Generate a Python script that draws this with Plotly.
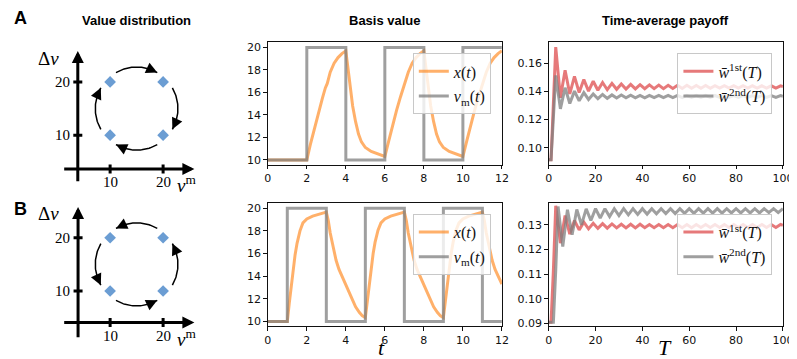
import numpy as np
import plotly.graph_objects as go

W, H = 797, 359

# ---- data -------------------------------------------------------------
# value distribution (v^m, delta v)
value_vm = [10, 20, 20, 10]
value_dv = [20, 20, 10, 10]

# A: basis value
t_step_a = [0, 2, 4, 6, 8, 10, 12]
vm_a = [10, 20, 10, 20, 10, 20, 20]
t_x_a = [0, 2.0, 2.2, 2.4, 2.6, 2.8, 2.95, 3.05, 3.2, 3.4, 3.6, 3.8, 4.0,
         4.1, 4.2, 4.35, 4.5, 4.65, 4.8, 5.0, 5.3, 5.6, 6.0,
         6.2, 6.4, 6.6, 6.8, 6.95, 7.05, 7.2, 7.4, 7.6, 7.8, 8.0,
         8.1, 8.2, 8.35, 8.5, 8.65, 8.8, 9.0, 9.3, 9.6, 10.0,
         10.2, 10.4, 10.6, 10.8, 10.95, 11.05, 11.2, 11.4, 11.6, 11.8, 12.0]
x_a = [10.0, 10.0, 11.5, 12.9, 14.2, 15.5, 16.4, 16.8, 17.8, 18.6, 19.1, 19.45, 19.7,
       18.3, 16.8, 14.8, 13.4, 12.3, 11.6, 11.1, 10.75, 10.55, 10.3,
       11.7, 13.1, 14.4, 15.6, 16.4, 16.8, 17.8, 18.6, 19.1, 19.45, 19.7,
       18.3, 16.8, 14.8, 13.4, 12.3, 11.6, 11.1, 10.75, 10.55, 10.3,
       11.7, 13.1, 14.4, 15.6, 16.4, 16.8, 17.8, 18.6, 19.1, 19.45, 19.7]

# B: basis value
t_step_b = [0, 1, 3, 5, 7, 9, 11, 12]
vm_b = [10, 20, 10, 20, 10, 20, 10, 10]
t_x_b = [0, 1.0, 1.1, 1.2, 1.3, 1.4, 1.5, 1.65, 1.8, 2.0, 2.3, 2.6, 3.0,
         3.1, 3.2, 3.35, 3.5, 3.65, 3.8, 3.95, 4.1, 4.3, 4.5, 4.7, 4.85, 5.0,
         5.1, 5.2, 5.3, 5.4, 5.5, 5.65, 5.8, 6.0, 6.3, 6.6, 7.0,
         7.1, 7.2, 7.35, 7.5, 7.65, 7.8, 7.95, 8.1, 8.3, 8.5, 8.7, 8.85, 9.0,
         9.1, 9.2, 9.3, 9.4, 9.5, 9.65, 9.8, 10.0, 10.3, 10.6, 11.0,
         11.1, 11.2, 11.35, 11.5, 11.65, 11.8, 11.95, 12.0]
x_b = [10.0, 10.0, 11.6, 13.2, 14.7, 15.9, 16.9, 18.0, 18.7, 19.05, 19.3, 19.45, 19.65,
       18.9, 17.8, 16.6, 15.4, 14.6, 14.0, 13.5, 12.8, 12.0, 11.3, 10.8, 10.5, 10.35,
       11.9, 13.4, 14.9, 16.0, 17.0, 18.05, 18.7, 19.05, 19.3, 19.45, 19.65,
       18.9, 17.8, 16.6, 15.4, 14.6, 14.0, 13.5, 12.8, 12.0, 11.3, 10.8, 10.5, 10.35,
       11.9, 13.4, 14.9, 16.0, 17.0, 18.05, 18.7, 19.05, 19.3, 19.45, 19.65,
       18.9, 17.8, 16.6, 15.4, 14.6, 14.0, 13.5, 13.3]

# A: time-average payoff
T_a = [0, 1, 3, 5, 7, 9, 11, 13, 15, 17, 19, 21, 23, 25, 27, 29, 31, 33, 35,
       37, 39, 41, 43, 45, 47, 49, 51, 53, 55, 57, 59, 61, 63, 65, 67, 69, 71,
       73, 75, 77, 79, 81, 83, 85, 87, 89, 91, 93, 95, 97, 99, 100]
w1_a = [0.0915, 0.0915, 0.1715, 0.1355, 0.1550, 0.1382, 0.1507, 0.1392, 0.1484,
        0.1402, 0.1472, 0.1408, 0.1463, 0.1412, 0.1457, 0.1415, 0.1453, 0.1417,
        0.1450, 0.1418, 0.1448, 0.1419, 0.1446, 0.1420, 0.1445, 0.1420, 0.1444,
        0.1421, 0.1443, 0.1421, 0.1443, 0.1422, 0.1442, 0.1422, 0.1442, 0.1422,
        0.1441, 0.1423, 0.1441, 0.1423, 0.1441, 0.1423, 0.1440, 0.1423, 0.1440,
        0.1424, 0.1440, 0.1424, 0.1440, 0.1424, 0.1440, 0.1435]
w2_a = [0.0915, 0.0915, 0.1514, 0.1276, 0.1426, 0.1314, 0.1402, 0.1333, 0.1391,
        0.1343, 0.1382, 0.1348, 0.1378, 0.1351, 0.1375, 0.1353, 0.1374, 0.1354,
        0.1373, 0.1355, 0.1372, 0.1355, 0.1372, 0.1356, 0.1372, 0.1356, 0.1371,
        0.1356, 0.1371, 0.1356, 0.1371, 0.1357, 0.1371, 0.1357, 0.1371, 0.1357,
        0.1371, 0.1357, 0.1371, 0.1357, 0.1370, 0.1357, 0.1370, 0.1357, 0.1370,
        0.1358, 0.1370, 0.1358, 0.1370, 0.1358, 0.1370, 0.1366]

# B: time-average payoff
T_b1 = [0, 1, 2, 3, 5, 7, 9, 11, 13, 15, 17, 19, 21, 23, 25, 27, 29, 31, 33, 35,
        37, 39, 41, 43, 45, 47, 49, 51, 53, 55, 57, 59, 61, 63, 65, 67, 69, 71,
        73, 75, 77, 79, 81, 83, 85, 87, 89, 91, 93, 95, 97, 99, 100]
w1_b = [0.0905, 0.0905, 0.1115, 0.1378, 0.1226, 0.1338, 0.1263, 0.1318, 0.1280,
        0.1311, 0.1284, 0.1307, 0.1286, 0.1305, 0.1287, 0.1304, 0.1288, 0.1303,
        0.1288, 0.1303, 0.1288, 0.1303, 0.1289, 0.1302, 0.1289, 0.1302, 0.1289,
        0.1302, 0.1289, 0.1302, 0.1289, 0.1302, 0.1289, 0.1302, 0.1290, 0.1302,
        0.1290, 0.1302, 0.1290, 0.1302, 0.1290, 0.1302, 0.1290, 0.1302, 0.1290,
        0.1302, 0.1290, 0.1302, 0.1290, 0.1302, 0.1290, 0.1302, 0.1298]
T_b2 = [0, 2, 3, 4, 6, 8, 10, 12, 14, 16, 18, 20, 22, 24, 26, 28, 30, 32, 34, 36,
        38, 40, 42, 44, 46, 48, 50, 52, 54, 56, 58, 60, 62, 64, 66, 68, 70, 72,
        74, 76, 78, 80, 82, 84, 86, 88, 90, 92, 94, 96, 98, 100]
w2_b = [0.0905, 0.0905, 0.1115, 0.1375, 0.1212, 0.1362, 0.1260, 0.1363, 0.1300,
        0.1365, 0.1318, 0.1366, 0.1328, 0.1366, 0.1334, 0.1366, 0.1338, 0.1366,
        0.1341, 0.1366, 0.1343, 0.1366, 0.1344, 0.1366, 0.1345, 0.1366, 0.1346,
        0.1366, 0.1346, 0.1366, 0.1347, 0.1366, 0.1347, 0.1366, 0.1348, 0.1366,
        0.1348, 0.1366, 0.1348, 0.1366, 0.1349, 0.1366, 0.1349, 0.1366, 0.1349,
        0.1366, 0.1349, 0.1366, 0.1350, 0.1366, 0.1350, 0.1366]

# ---- style ------------------------------------------------------------
ORANGE = "rgba(255,127,14,0.62)"
GRAY = "rgba(127,127,127,0.75)"
RED = "rgba(214,39,40,0.62)"
BLUE = "#6b9dd3"
SERIF = "Liberation Serif"
SANS = "Liberation Sans"
TICKFONT = dict(family="DejaVu Sans", size=11, color="#111")


def px_x(p):
    return p / W


def px_y(p):
    return 1 - p / H


MID_X = [px_x(260.7), px_x(499.3)]
RIGHT_X = [px_x(547), px_x(785.7)]
TOP_Y = [px_y(157.7), px_y(33.3)]
BOT_Y = [px_y(321.7), px_y(197)]

fig = go.Figure()


def line(x, y, color, name, xa, ya, legend, shape="linear"):
    fig.add_trace(go.Scatter(
        x=x, y=y, mode="lines", name=name, legend=legend, legendgroup=name + legend,
        line=dict(color=color, width=3, shape=shape),
        xaxis=xa, yaxis=ya, hoverinfo="skip",
    ))


XT = "<i>x</i>(<i>t</i>)"
VT = "<i>v</i><sub>m</sub>(<i>t</i>)"
W1 = "<i>w̄</i><sup>1st</sup>(<i>T</i>)"
W2 = "<i>w̄</i><sup>2nd</sup>(<i>T</i>)"

line(t_x_a, x_a, ORANGE, XT, "x", "y", "legend")
line(t_step_a, vm_a, GRAY, VT, "x", "y", "legend", shape="hv")
line(T_a, w1_a, RED, W1, "x2", "y2", "legend2")
line(T_a, w2_a, GRAY, W2, "x2", "y2", "legend2")
line(t_x_b, x_b, ORANGE, XT, "x3", "y3", "legend3")
line(t_step_b, vm_b, GRAY, VT, "x3", "y3", "legend3", shape="hv")
line(T_b1, w1_b, RED, W1, "x4", "y4", "legend4")
line(T_b2, w2_b, GRAY, W2, "x4", "y4", "legend4")


def frame(domain, rng, anchor, **kw):
    d = dict(domain=domain, range=rng, anchor=anchor, showline=True, mirror=True,
             linecolor="#111", linewidth=1, ticks="outside", ticklen=3.5,
             tickwidth=0.8, tickcolor="#111", showgrid=False, zeroline=False,
             tickfont=TICKFONT)
    d.update(kw)
    return d


annotations = []
schem_axes = {}

# ---- schematic value-distribution panels ------------------------------
SCALE = 5.4  # px per unit
cx, cy = float(np.mean(value_vm)), float(np.mean(value_dv))
R = 7.8


def schematic(idx, top_px, clockwise, cross_y, cross_x):
    xa, ya = f"x{idx}", f"y{idx}"
    schem_axes[f"xaxis{idx}"] = dict(domain=[px_x(30), px_x(200)], anchor=ya, visible=False,
                                     range=[10 - 70 / SCALE, 10 + 100 / SCALE])
    schem_axes[f"yaxis{idx}"] = dict(domain=[px_y(top_px + 155), px_y(top_px)], anchor=xa,
                                     visible=False,
                                     range=[10 - 57 / SCALE, 10 + 98 / SCALE])
    ref = dict(xref=xa, yref=ya)
    # axes with arrows
    for (x0, y0, x1, y1) in [(cross_x, 1.05, cross_x, 25.8), (1.05, cross_y, 25.9, cross_y)]:
        annotations.append(dict(x=x1, y=y1, ax=x0, ay=y0, axref=xa, ayref=ya, text="",
                                showarrow=True, arrowhead=2, arrowwidth=3, arrowsize=0.8,
                                arrowcolor="#000", **ref))
    # ticks
    tl = 0.85
    fig.add_trace(go.Scatter(
        x=[cross_x - tl, cross_x + tl, None, cross_x - tl, cross_x + tl, None,
           10, 10, None, 20, 20],
        y=[10, 10, None, 20, 20, None,
           cross_y - tl, cross_y + tl, None, cross_y - tl, cross_y + tl],
        mode="lines", line=dict(color="#000", width=3), showlegend=False,
        xaxis=xa, yaxis=ya, hoverinfo="skip"))
    for v in (10, 20):
        annotations.append(dict(x=cross_x - 1.1, y=v, text=str(v), showarrow=False,
                                xanchor="right", yanchor="middle",
                                font=dict(family=SERIF, size=15, color="#000"), **ref))
        annotations.append(dict(x=v, y=cross_y - 2.5, text=str(v), showarrow=False,
                                xanchor="center", yanchor="middle",
                                font=dict(family=SERIF, size=15, color="#000"), **ref))
    annotations.append(dict(x=-1.6, y=24.5, text="Δ<i>v</i>", showarrow=False,
                            xanchor="center",
                            font=dict(family=SERIF, size=19, color="#000"), **ref))
    annotations.append(dict(x=24.4, y=cross_y - 2.9, text="<i>v</i><sup>m</sup>",
                            showarrow=False, xanchor="center",
                            font=dict(family=SERIF, size=19, color="#000"), **ref))
    # circulating arcs
    for mid in (90, 0, -90, 180):
        if clockwise:
            a0, a1 = mid + 30, mid - 30
        else:
            a0, a1 = mid - 30, mid + 30
        ang = np.radians(np.linspace(a0, a1, 40))
        fig.add_trace(go.Scatter(x=cx + R * np.cos(ang), y=cy + R * np.sin(ang),
                                 mode="lines", line=dict(color="#000", width=1.5),
                                 showlegend=False, xaxis=xa, yaxis=ya, hoverinfo="skip"))
        back = np.radians(a1 + (10 if clockwise else -10))
        tip = np.radians(a1)
        annotations.append(dict(x=cx + R * np.cos(tip), y=cy + R * np.sin(tip),
                                ax=cx + R * np.cos(back), ay=cy + R * np.sin(back),
                                axref=xa, ayref=ya, text="", showarrow=True,
                                arrowhead=2, arrowwidth=1.5, arrowsize=1.5,
                                arrowcolor="#000", **ref))
    fig.add_trace(go.Scatter(x=value_vm, y=value_dv, mode="markers",
                             marker=dict(symbol="diamond", size=9, color=BLUE),
                             showlegend=False, xaxis=xa, yaxis=ya, hoverinfo="skip"))


schematic(5, 30, True, 3.65, 3.9)
schematic(6, 188, False, 4.1, 3.95)

# ---- text -------------------------------------------------------------
for txt, x, y in [("Value distribution", 126.5, 12), ("Basis value", 380, 12),
                  ("Time-average payoff", 666, 12)]:
    annotations.append(dict(x=px_x(x), y=px_y(y), xref="paper", yref="paper",
                            xanchor="center", yanchor="middle",
                            text=f"<b>{txt}</b>", showarrow=False,
                            font=dict(family=SANS, size=13, color="#000")))
for txt, x, y in [("A", 9, 9), ("B", 9, 203)]:
    annotations.append(dict(x=px_x(x), y=px_y(y), xref="paper", yref="paper",
                            xanchor="center", yanchor="middle",
                            text=f"<b>{txt}</b>", showarrow=False,
                            font=dict(family=SANS, size=18, color="#000")))
for txt, x in [("<i>t</i>", 377), ("<i>T</i>", 666)]:
    annotations.append(dict(x=px_x(x), y=px_y(343), xref="paper", yref="paper",
                            xanchor="center", yanchor="middle",
                            text=txt, showarrow=False,
                            font=dict(family=SERIF, size=22, color="#000")))


def legend_box(xr, yt):
    return dict(x=px_x(xr), y=px_y(yt), xanchor="right", yanchor="top",
                bgcolor="rgba(255,255,255,0.8)", bordercolor="#c8c8c8", borderwidth=1,
                font=dict(family=SERIF, size=16, color="#111"),
                traceorder="grouped", tracegroupgap=1, itemwidth=30)


fig.update_layout(
    width=W, height=H, margin=dict(l=0, r=0, t=0, b=0),
    paper_bgcolor="white", plot_bgcolor="white",
    xaxis=frame(MID_X, [0, 12], "y", tickvals=list(range(0, 13, 2))),
    yaxis=frame(TOP_Y, [9.59, 20.5], "x", tickvals=list(range(10, 21, 2))),
    xaxis2=frame(RIGHT_X, [0, 100], "y2", tickvals=list(range(0, 101, 20))),
    yaxis2=frame(TOP_Y, [0.0881, 0.1752], "x2", tickvals=[0.10, 0.12, 0.14, 0.16],
                 tickformat=".2f"),
    xaxis3=frame(MID_X, [0, 12], "y3", tickvals=list(range(0, 13, 2))),
    yaxis3=frame(BOT_Y, [9.59, 20.43], "x3", tickvals=list(range(10, 21, 2))),
    xaxis4=frame(RIGHT_X, [0, 100], "y4", tickvals=list(range(0, 101, 20))),
    yaxis4=frame(BOT_Y, [0.0889, 0.1388], "x4", tickvals=[0.09, 0.10, 0.11, 0.12, 0.13],
                 tickformat=".2f"),
    legend=legend_box(488, 45),
    legend2=legend_box(775, 45),
    legend3=legend_box(488, 208),
    legend4=legend_box(775, 208),
    annotations=annotations,
    showlegend=True,
)
fig.update_layout(**schem_axes)

fig.write_html("out.html")
